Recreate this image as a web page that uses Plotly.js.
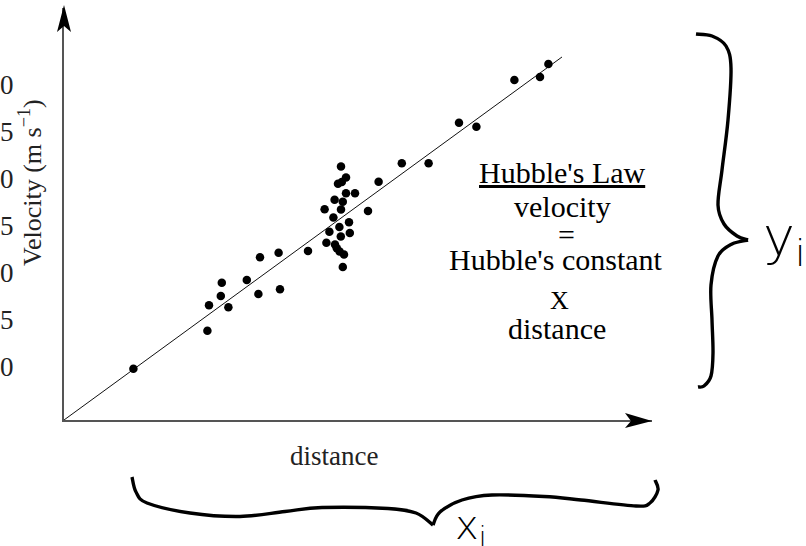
<!DOCTYPE html>
<html>
<head>
<meta charset="utf-8">
<script src="https://cdn.plot.ly/plotly-3.0.1.min.js"></script>
<style>
  html, body { margin: 0; padding: 0; background: #fff; }
  #chart { width: 806px; height: 546px; }
</style>
</head>
<body>
<div id="chart"></div>
<script>
// Galaxy sample: distance (arbitrary units) against recession velocity (m s^-1)
const distance = [3.47, 7.17, 7.25, 7.84, 7.89, 8.22, 9.14, 9.72, 9.80, 10.73,
                  10.80, 12.20, 13.03, 13.12, 13.27, 13.47, 13.53, 13.70, 13.85, 14.10,
                  14.10, 13.94, 13.85, 14.55, 14.25, 13.77, 13.84, 14.29, 13.55, 13.64,
                  13.78, 14.00, 13.94, 15.20, 15.73, 16.89, 18.23, 19.75, 20.62, 22.52,
                  23.80, 24.22, 13.89];
const velocity = [9.82, 13.86, 16.56, 17.55, 18.97, 16.35, 19.25, 17.77, 21.67, 22.16,
                  18.27, 22.34, 26.78, 23.22, 24.39, 25.91, 27.80, 29.50, 31.33, 30.16,
                  28.48, 27.58, 26.75, 28.48, 25.39, 24.89, 23.88, 24.25, 23.03, 22.63,
                  22.29, 21.97, 20.64, 26.60, 29.71, 31.67, 31.67, 35.99, 35.56, 40.53,
                  40.85, 42.23, 29.67];

// Best-fit line end points
const fitDistance = [0, 24.9];
const fitVelocity = [4.36, 42.98];

// Velocity axis ticks
const velocityTicks = [10, 15, 20, 25, 30, 35, 40];
const velocityTickText = ['10', '15', '20', '25', '30', '35', '40'];

// Figure geometry
const W = 806, H = 546;
const M = { l: 64, r: 154, t: 8, b: 126 };
const PW = W - M.l - M.r, PH = H - M.t - M.b;
const px = x => (x - M.l) / PW;          // figure pixel -> paper x
const py = y => (H - M.b - y) / PH;      // figure pixel -> paper y

const serif = 'Liberation Serif, Times New Roman, serif';

// Smooth stroke through pixel points (Catmull-Rom -> cubic Bezier), in paper units
function smoothPath(pts) {
  let d = 'M ' + px(pts[0][0]) + ',' + py(pts[0][1]);
  for (let i = 0; i < pts.length - 1; i++) {
    const p0 = pts[Math.max(i - 1, 0)], p1 = pts[i], p2 = pts[i + 1], p3 = pts[Math.min(i + 2, pts.length - 1)];
    const c1 = [p1[0] + (p2[0] - p0[0]) / 6, p1[1] + (p2[1] - p0[1]) / 6];
    const c2 = [p2[0] - (p3[0] - p1[0]) / 6, p2[1] - (p3[1] - p1[1]) / 6];
    d += ' C ' + px(c1[0]) + ',' + py(c1[1]) + ' ' + px(c2[0]) + ',' + py(c2[1]) + ' ' + px(p2[0]) + ',' + py(p2[1]);
  }
  return d;
}
function polyPath(pts) {
  return pts.map((p, i) => (i ? 'L ' : 'M ') + px(p[0]) + ',' + py(p[1])).join(' ') + ' Z';
}
function stroke(pts) {
  return { type: 'path', xref: 'paper', yref: 'paper', path: smoothPath(pts),
           line: { color: '#000', width: 3.4 }, layer: 'above' };
}

// Curly braces
const braceRightTop = [[696,34],[712,36],[726,46],[731,68],[728,120],[722,170],[718,205],[724,224],[737,236],[748,240]];
const braceRightBot = [[748,240],[732,244],[718,256],[711,285],[712,320],[713,353],[711,376],[704,386],[698,387]];
const braceBotLeft  = [[132,477],[136,492],[147,503],[190,513],[240,516.5],[285,511.5],[322,507.5],[388,508.5],[416,513],[433,525]];
const braceBotRight = [[433,525],[440,512],[462,500],[492,495],[544,496.5],[581,500],[636,506],[650,503],[658,490],[655,480]];

const shapes = [
  // axis arrowheads
  { type: 'path', xref: 'paper', yref: 'paper', line: { width: 0 }, fillcolor: '#000',
    path: polyPath([[652,421],[625,413],[631,421],[625,428]]) },
  { type: 'path', xref: 'paper', yref: 'paper', line: { width: 0 }, fillcolor: '#000',
    path: polyPath([[64,5],[57,32],[64,26],[71,32]]) },
  stroke(braceRightTop), stroke(braceRightBot),
  stroke(braceBotLeft), stroke(braceBotRight)
];

function note(text, x, y, size, extra) {
  return Object.assign({ text: text, xref: 'paper', yref: 'paper', x: px(x), y: py(y),
    xanchor: 'center', yanchor: 'middle', showarrow: false,
    font: { family: serif, size: size, color: '#000' } }, extra || {});
}

const annotations = [
  note('<u>Hubble\'s Law</u>', 562, 172, 30),
  note('velocity', 562, 206, 30),
  note('=', 566, 234, 30),
  note('Hubble\'s constant', 556, 259, 30),
  note('X', 559, 300, 26),
  note('distance', 557, 328, 30),
  note('distance', 334, 456, 27, { font: { family: serif, size: 27, color: '#222' } }),
  note('Velocity (m s<sup>\u22121</sup>)', 30, 183, 26, { textangle: -90, font: { family: serif, size: 26, color: '#222' } }),
  note('y<sub>i</sub>', 784, 240, 54, { font: { family: 'DejaVu Sans', size: 54, color: '#000', weight: 200 } }),
  note('x<sub>i</sub>', 470, 528, 40, { font: { family: 'DejaVu Sans', size: 40, color: '#000', weight: 200 } })
];

const traces = [
  { x: fitDistance, y: fitVelocity, type: 'scatter', mode: 'lines',
    line: { color: '#111', width: 1 }, hoverinfo: 'skip' },
  { x: distance, y: velocity, type: 'scatter', mode: 'markers',
    marker: { color: '#000', size: 8.5, line: { width: 0 } } }
];

const layout = {
  width: W, height: H,
  margin: M,
  paper_bgcolor: '#fff', plot_bgcolor: '#fff',
  showlegend: false,
  xaxis: { range: [0, PW / 20], showline: true, linecolor: '#555', linewidth: 2,
           showgrid: false, zeroline: false, showticklabels: false, ticks: '', fixedrange: true },
  yaxis: { range: [4.36, 4.36 + PH / 9.4], showline: true, linecolor: '#555', linewidth: 2,
           showgrid: false, zeroline: false, ticks: '', automargin: false,
           tickmode: 'array', tickvals: velocityTicks, ticktext: velocityTickText,
           ticklabelstandoff: 43, tickfont: { family: serif, size: 27, color: '#222' }, fixedrange: true },
  shapes: shapes,
  annotations: annotations
};

Plotly.newPlot('chart', traces, layout, { staticPlot: true, displayModeBar: false });
</script>
</body>
</html>
